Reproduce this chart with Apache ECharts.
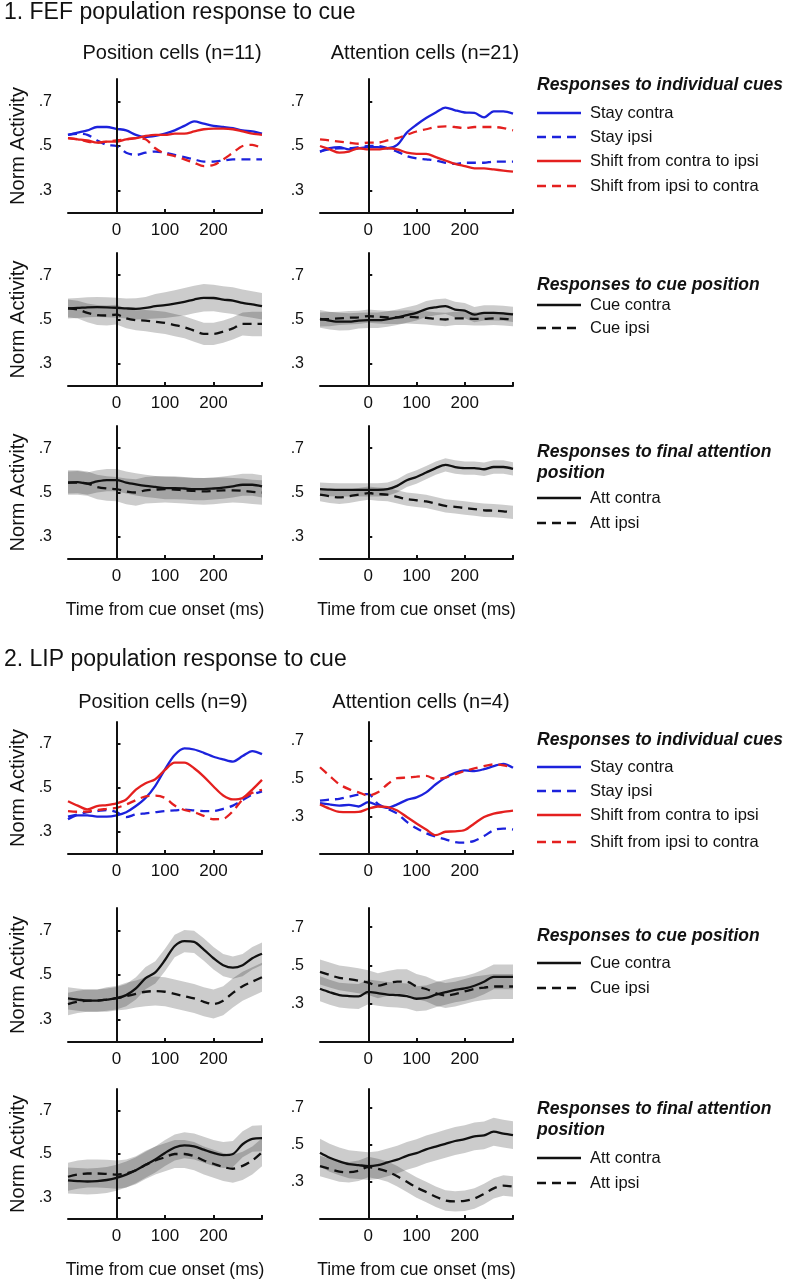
<!DOCTYPE html>
<html>
<head>
<meta charset="utf-8">
<script src="https://cdn.jsdelivr.net/npm/echarts@6/dist/echarts.min.js"></script>
<style>
  html, body { margin: 0; padding: 0; background: #fff; }
  #main { width: 786px; height: 1280px; }
</style>
</head>
<body>
<div id="main"></div>
<script>
// time bins (ms from cue onset)
var T = [-100,-80,-60,-40,-20,0,20,40,60,80,100,120,140,160,180,200,220,240,260,280,300];

// 1. FEF - position cells, individual cues
var fefPosStayContra = [0.55,0.56,0.57,0.585,0.585,0.577,0.57,0.55,0.54,0.545,0.555,0.57,0.59,0.61,0.60,0.59,0.585,0.58,0.57,0.565,0.555];
var fefPosStayIpsi   = [0.55,0.555,0.55,0.525,0.505,0.50,0.47,0.46,0.47,0.475,0.47,0.46,0.45,0.44,0.43,0.43,0.435,0.44,0.44,0.44,0.44];
var fefPosShiftCI    = [0.535,0.53,0.525,0.515,0.52,0.52,0.53,0.535,0.545,0.55,0.55,0.555,0.555,0.565,0.575,0.578,0.578,0.575,0.565,0.555,0.55];
var fefPosShiftIC    = [0.535,0.53,0.52,0.515,0.52,0.525,0.53,0.535,0.53,0.49,0.465,0.455,0.44,0.425,0.41,0.415,0.44,0.47,0.50,0.505,0.49];
// FEF - attention cells, individual cues
var fefAttStayContra = [0.475,0.49,0.495,0.485,0.49,0.495,0.495,0.49,0.505,0.56,0.595,0.625,0.65,0.672,0.66,0.65,0.648,0.628,0.655,0.655,0.645];
var fefAttStayIpsi   = [0.475,0.485,0.49,0.49,0.495,0.50,0.50,0.49,0.475,0.455,0.445,0.44,0.435,0.425,0.42,0.425,0.425,0.425,0.43,0.43,0.43];
var fefAttShiftCI    = [0.50,0.485,0.47,0.475,0.49,0.485,0.485,0.49,0.485,0.47,0.465,0.465,0.45,0.435,0.42,0.41,0.40,0.40,0.395,0.39,0.385];
var fefAttShiftIC    = [0.53,0.525,0.52,0.515,0.51,0.515,0.515,0.525,0.535,0.55,0.565,0.575,0.585,0.588,0.585,0.58,0.585,0.585,0.585,0.58,0.57];
// FEF - cue position (mean, sem)
var fefPosCueContra    = [0.55,0.552,0.555,0.556,0.555,0.553,0.55,0.548,0.552,0.56,0.565,0.572,0.58,0.59,0.598,0.597,0.59,0.585,0.575,0.568,0.56];
var fefPosCueContraSem = [0.045,0.045,0.045,0.045,0.045,0.045,0.045,0.048,0.05,0.055,0.058,0.06,0.062,0.062,0.062,0.06,0.06,0.06,0.06,0.06,0.06];
var fefPosCueIpsi      = [0.55,0.545,0.53,0.52,0.518,0.522,0.505,0.497,0.495,0.49,0.485,0.475,0.465,0.45,0.435,0.435,0.445,0.46,0.48,0.48,0.48];
var fefPosCueIpsiSem   = [0.04,0.04,0.042,0.045,0.045,0.045,0.045,0.045,0.048,0.05,0.05,0.05,0.05,0.05,0.05,0.05,0.05,0.05,0.052,0.055,0.055];
var fefAttCueContra    = [0.503,0.495,0.49,0.49,0.495,0.497,0.497,0.502,0.51,0.52,0.53,0.547,0.555,0.56,0.545,0.54,0.522,0.53,0.53,0.528,0.523];
var fefAttCueContraSem = [0.04,0.04,0.04,0.038,0.036,0.035,0.035,0.035,0.035,0.035,0.035,0.036,0.036,0.035,0.035,0.034,0.034,0.034,0.034,0.034,0.034];
var fefAttCueIpsi      = [0.5,0.502,0.505,0.508,0.51,0.515,0.512,0.51,0.51,0.512,0.51,0.507,0.503,0.5,0.505,0.505,0.503,0.503,0.505,0.503,0.5];
var fefAttCueIpsiSem   = [0.032,0.032,0.03,0.03,0.03,0.03,0.03,0.03,0.03,0.03,0.03,0.03,0.03,0.03,0.03,0.03,0.03,0.03,0.03,0.03,0.03];
// FEF - final attention position (mean, sem)
var fefPosFinContra    = [0.545,0.547,0.54,0.55,0.556,0.556,0.545,0.537,0.53,0.525,0.52,0.52,0.518,0.515,0.515,0.518,0.522,0.528,0.535,0.535,0.528];
var fefPosFinContraSem = [0.05,0.05,0.05,0.05,0.05,0.05,0.05,0.05,0.05,0.05,0.05,0.05,0.05,0.05,0.05,0.05,0.05,0.05,0.05,0.05,0.05];
var fefPosFinIpsi      = [0.545,0.545,0.54,0.525,0.518,0.515,0.505,0.5,0.51,0.513,0.515,0.513,0.51,0.507,0.505,0.507,0.51,0.51,0.508,0.503,0.5];
var fefPosFinIpsiSem   = [0.055,0.055,0.055,0.055,0.055,0.055,0.058,0.06,0.06,0.06,0.06,0.06,0.06,0.06,0.06,0.06,0.058,0.055,0.055,0.055,0.055];
var fefAttFinContra    = [0.515,0.513,0.512,0.512,0.512,0.512,0.512,0.515,0.53,0.555,0.57,0.59,0.61,0.625,0.615,0.61,0.61,0.605,0.615,0.615,0.607];
var fefAttFinContraSem = [0.03,0.03,0.03,0.03,0.03,0.03,0.03,0.03,0.03,0.03,0.03,0.03,0.03,0.03,0.03,0.03,0.03,0.03,0.03,0.03,0.03];
var fefAttFinIpsi      = [0.49,0.483,0.478,0.483,0.49,0.497,0.493,0.49,0.48,0.47,0.465,0.46,0.45,0.44,0.435,0.43,0.425,0.42,0.418,0.415,0.41];
var fefAttFinIpsiSem   = [0.03,0.03,0.03,0.03,0.03,0.03,0.03,0.03,0.03,0.03,0.03,0.03,0.03,0.03,0.03,0.03,0.03,0.03,0.03,0.03,0.03];

// 2. LIP - position cells, individual cues
var lipPosStayContra = [0.358,0.376,0.376,0.37,0.37,0.376,0.39,0.418,0.455,0.51,0.585,0.65,0.68,0.675,0.66,0.642,0.63,0.62,0.645,0.668,0.654];
var lipPosStayIpsi   = [0.37,0.38,0.39,0.395,0.4,0.39,0.368,0.38,0.385,0.39,0.395,0.398,0.402,0.398,0.395,0.395,0.405,0.42,0.445,0.47,0.485];
var lipPosShiftCI    = [0.44,0.42,0.403,0.418,0.422,0.43,0.448,0.493,0.522,0.54,0.582,0.615,0.615,0.59,0.552,0.507,0.466,0.448,0.455,0.493,0.537];
var lipPosShiftIC    = [0.395,0.392,0.393,0.4,0.405,0.41,0.425,0.445,0.462,0.465,0.455,0.42,0.4,0.39,0.373,0.358,0.36,0.395,0.448,0.478,0.492];
// LIP - attention cells, individual cues
var lipAttStayContra = [0.37,0.363,0.357,0.36,0.352,0.375,0.357,0.345,0.363,0.387,0.4,0.427,0.47,0.505,0.53,0.543,0.54,0.55,0.566,0.578,0.557];
var lipAttStayIpsi   = [0.383,0.389,0.392,0.404,0.415,0.418,0.366,0.34,0.314,0.27,0.236,0.21,0.192,0.178,0.163,0.16,0.17,0.195,0.227,0.235,0.23];
var lipAttShiftCI    = [0.363,0.34,0.323,0.322,0.323,0.34,0.352,0.349,0.331,0.296,0.262,0.23,0.2,0.218,0.22,0.227,0.262,0.296,0.314,0.323,0.33];
var lipAttShiftIC    = [0.56,0.514,0.47,0.444,0.427,0.41,0.427,0.47,0.502,0.505,0.51,0.514,0.497,0.505,0.523,0.54,0.554,0.566,0.575,0.57,0.56];
// LIP - cue position
var lipPosCueContra    = [0.395,0.39,0.385,0.385,0.39,0.396,0.41,0.44,0.486,0.512,0.567,0.63,0.652,0.648,0.614,0.575,0.544,0.533,0.544,0.575,0.595];
var lipPosCueContraSem = [0.05,0.05,0.05,0.05,0.05,0.05,0.05,0.05,0.05,0.05,0.05,0.05,0.05,0.05,0.05,0.05,0.05,0.05,0.05,0.05,0.05];
var lipPosCueIpsi      = [0.37,0.38,0.385,0.385,0.39,0.396,0.405,0.415,0.425,0.428,0.425,0.415,0.405,0.395,0.38,0.37,0.385,0.42,0.45,0.47,0.49];
var lipPosCueIpsiSem   = [0.05,0.05,0.05,0.05,0.055,0.055,0.06,0.06,0.065,0.065,0.065,0.065,0.065,0.065,0.065,0.065,0.065,0.065,0.065,0.065,0.065];
var lipAttCueContra    = [0.378,0.36,0.345,0.34,0.338,0.362,0.355,0.348,0.345,0.34,0.326,0.33,0.347,0.36,0.372,0.38,0.394,0.415,0.44,0.44,0.44];
var lipAttCueContraSem = [0.065,0.065,0.065,0.065,0.065,0.065,0.065,0.065,0.065,0.065,0.065,0.065,0.065,0.065,0.065,0.065,0.065,0.065,0.065,0.065,0.065];
var lipAttCueIpsi      = [0.466,0.45,0.435,0.428,0.42,0.41,0.394,0.406,0.415,0.415,0.39,0.377,0.355,0.343,0.35,0.364,0.377,0.384,0.39,0.39,0.39];
var lipAttCueIpsiSem   = [0.065,0.065,0.065,0.065,0.065,0.065,0.065,0.065,0.065,0.065,0.065,0.065,0.065,0.065,0.065,0.065,0.065,0.065,0.065,0.065,0.065];
// LIP - final attention position
var lipPosFinContra    = [0.378,0.375,0.373,0.375,0.38,0.39,0.405,0.425,0.45,0.475,0.505,0.53,0.54,0.535,0.52,0.505,0.495,0.5,0.545,0.57,0.573];
var lipPosFinContraSem = [0.06,0.06,0.06,0.06,0.06,0.06,0.06,0.06,0.06,0.06,0.06,0.06,0.06,0.06,0.06,0.06,0.06,0.06,0.06,0.06,0.06];
var lipPosFinIpsi      = [0.395,0.405,0.41,0.41,0.408,0.405,0.41,0.425,0.45,0.47,0.485,0.5,0.5,0.49,0.47,0.455,0.44,0.432,0.445,0.47,0.508];
var lipPosFinIpsiSem   = [0.065,0.065,0.065,0.065,0.065,0.065,0.065,0.065,0.065,0.065,0.065,0.065,0.065,0.065,0.065,0.065,0.065,0.065,0.065,0.065,0.065];
var lipAttFinContra    = [0.457,0.43,0.41,0.395,0.39,0.385,0.39,0.405,0.42,0.44,0.455,0.475,0.49,0.505,0.52,0.53,0.545,0.55,0.57,0.56,0.552];
var lipAttFinContraSem = [0.075,0.075,0.075,0.075,0.075,0.075,0.075,0.075,0.075,0.075,0.075,0.075,0.075,0.075,0.075,0.075,0.075,0.075,0.075,0.075,0.075];
var lipAttFinIpsi      = [0.385,0.37,0.355,0.352,0.36,0.38,0.37,0.355,0.33,0.30,0.27,0.245,0.22,0.2,0.195,0.198,0.21,0.235,0.265,0.28,0.275];
var lipAttFinIpsiSem   = [0.055,0.055,0.055,0.055,0.055,0.055,0.055,0.055,0.055,0.055,0.055,0.055,0.055,0.055,0.055,0.055,0.055,0.055,0.055,0.055,0.055];

var xLabels = [0, 100, 200];
var xTicks = [0, 100, 200, 300];
var yLabels = [0.3, 0.5, 0.7];

var indivNames = ['Stay contra', 'Stay ipsi', 'Shift from contra to ipsi', 'Shift from ipsi to contra'];
var cueNames = ['Cue contra', 'Cue ipsi'];
var attNames = ['Att contra', 'Att ipsi'];

var FONT = '"Liberation Sans", Arial, Helvetica, sans-serif';
var BLUE = '#1c22dc';
var RED = '#e4201f';
var INK = '#111';
var DASH = [9, 6];
var LW = 2.3;

// panel layout: [left, top, width, height, yMin]
var panels = [
  [68, 79, 194, 134, 0.2], [320, 79, 193, 134, 0.2],
  [68, 253, 194, 133, 0.2], [320, 253, 193, 133, 0.2],
  [68, 426, 194, 133, 0.2], [320, 426, 193, 133, 0.2],
  [68, 722, 194, 132, 0.2], [320, 722, 193, 132, 0.1],
  [68, 908, 194, 134, 0.2], [320, 908, 193, 134, 0.1],
  [68, 1089, 194, 134, 0.2], [320, 1089, 193, 134, 0.1]
];
var bottomRows = [4, 5, 10, 11];

var grids = [], xAxes = [], yAxes = [], series = [];

panels.forEach(function(p, i){
  grids.push({ left: p[0], top: p[1], width: p[2], height: p[3] });
  var xa = {
    type: 'value', gridIndex: i, min: -100, max: 300,
    axisLine: { lineStyle: { color: INK, width: 2 } },
    axisTick: { inside: true, length: 4, customValues: xTicks, lineStyle: { color: INK, width: 2 } },
    axisLabel: { customValues: xLabels, color: INK, fontSize: 17, fontFamily: FONT, margin: 9 },
    splitLine: { show: false }
  };
  if (bottomRows.indexOf(i) >= 0) {
    xa.name = 'Time from cue onset (ms)';
    xa.nameLocation = 'middle';
    xa.nameGap = 42;
    xa.nameTextStyle = { color: INK, fontSize: 17.5, fontFamily: FONT };
  }
  xAxes.push(xa);
  var ya = {
    type: 'value', gridIndex: i, min: p[4], max: 0.8,
    axisLine: { lineStyle: { color: INK, width: 2 } },
    axisTick: { inside: true, length: 4, customValues: yLabels, lineStyle: { color: INK, width: 2 } },
    axisLabel: {
      customValues: yLabels, color: INK, fontSize: 16, fontFamily: FONT, margin: 16,
      formatter: function(v){ return v.toFixed(1).replace(/^0/, ''); }
    },
    splitLine: { show: false }
  };
  if (i % 2 === 0) {
    ya.name = 'Norm Activity';
    ya.nameLocation = 'middle';
    ya.nameGap = 40;
    ya.nameTextStyle = { color: INK, fontSize: 20, fontFamily: FONT };
  }
  yAxes.push(ya);
});

function pairs(vals){ return T.map(function(t, k){ return [t, vals[k]]; }); }

var zeroLine = {
  silent: true, symbol: 'none', label: { show: false },
  lineStyle: { color: INK, width: 2, type: 'solid' },
  data: [{ xAxis: 0 }]
};

function meanLine(g, name, vals, color, dashed){
  return {
    type: 'line', name: name, xAxisIndex: g, yAxisIndex: g,
    data: pairs(vals), symbol: 'none', smooth: 0.3, silent: true,
    lineStyle: { color: color, width: LW, type: dashed ? DASH : 'solid' },
    itemStyle: { color: color }
  };
}

// shaded mean +/- sem band, drawn as one polygon through the axes
function band(g, vals, sem){
  var lo = vals.map(function(v, k){ return v - sem[k]; });
  var hi = vals.map(function(v, k){ return v + sem[k]; });
  return {
    type: 'custom', xAxisIndex: g, yAxisIndex: g, silent: true,
    data: T.map(function(t, k){ return [t, lo[k], hi[k]]; }),
    encode: { x: 0, y: [1, 2] },
    renderItem: function(params, api){
      if (params.dataIndex !== 0) return null;
      var pts = [], k;
      for (k = 0; k < T.length; k++) pts.push(api.coord([T[k], hi[k]]));
      for (k = T.length - 1; k >= 0; k--) pts.push(api.coord([T[k], lo[k]]));
      return { type: 'polygon', shape: { points: pts }, style: { fill: 'rgba(0,0,0,0.2)' } };
    }
  };
}

function individualPanel(g, sc, si, ci, ic){
  var s1 = meanLine(g, indivNames[0], sc, BLUE, false);
  s1.markLine = zeroLine;
  series.push(s1,
    meanLine(g, indivNames[1], si, BLUE, true),
    meanLine(g, indivNames[2], ci, RED, false),
    meanLine(g, indivNames[3], ic, RED, true));
}

function pairPanel(g, names, contra, contraSem, ipsi, ipsiSem){
  var m1 = meanLine(g, names[0], contra, INK, false);
  m1.markLine = zeroLine;
  series.push(band(g, contra, contraSem), m1,
    band(g, ipsi, ipsiSem), meanLine(g, names[1], ipsi, INK, true));
}

individualPanel(0, fefPosStayContra, fefPosStayIpsi, fefPosShiftCI, fefPosShiftIC);
individualPanel(1, fefAttStayContra, fefAttStayIpsi, fefAttShiftCI, fefAttShiftIC);
pairPanel(2, cueNames, fefPosCueContra, fefPosCueContraSem, fefPosCueIpsi, fefPosCueIpsiSem);
pairPanel(3, cueNames, fefAttCueContra, fefAttCueContraSem, fefAttCueIpsi, fefAttCueIpsiSem);
pairPanel(4, attNames, fefPosFinContra, fefPosFinContraSem, fefPosFinIpsi, fefPosFinIpsiSem);
pairPanel(5, attNames, fefAttFinContra, fefAttFinContraSem, fefAttFinIpsi, fefAttFinIpsiSem);
individualPanel(6, lipPosStayContra, lipPosStayIpsi, lipPosShiftCI, lipPosShiftIC);
individualPanel(7, lipAttStayContra, lipAttStayIpsi, lipAttShiftCI, lipAttShiftIC);
pairPanel(8, cueNames, lipPosCueContra, lipPosCueContraSem, lipPosCueIpsi, lipPosCueIpsiSem);
pairPanel(9, cueNames, lipAttCueContra, lipAttCueContraSem, lipAttCueIpsi, lipAttCueIpsiSem);
pairPanel(10, attNames, lipPosFinContra, lipPosFinContraSem, lipPosFinIpsi, lipPosFinIpsiSem);
pairPanel(11, attNames, lipAttFinContra, lipAttFinContraSem, lipAttFinIpsi, lipAttFinIpsiSem);

function text(x, y, str, font, align){
  return {
    type: 'text', x: x, y: y, silent: true,
    style: { text: str, font: font, fill: INK, align: align || 'left', verticalAlign: 'middle' }
  };
}

var headFont = '23px ' + FONT;
var colFont = '20px ' + FONT;
var legTitleFont = 'italic bold 17.5px ' + FONT;
var legFont = '16.5px ' + FONT;

var graphics = [
  text(4, 13, '1. FEF population response to cue', headFont),
  text(172, 53, 'Position cells (n=11)', colFont, 'center'),
  text(425, 53, 'Attention cells (n=21)', colFont, 'center'),
  text(537, 85, 'Responses to individual cues', legTitleFont),
  text(537, 285, 'Responses to cue position', legTitleFont),
  text(537, 452, 'Responses to final attention', legTitleFont),
  text(537, 473, 'position', legTitleFont),
  text(4, 660, '2. LIP population response to cue', headFont),
  text(163, 702, 'Position cells (n=9)', colFont, 'center'),
  text(421, 702, 'Attention cells (n=4)', colFont, 'center'),
  text(537, 740, 'Responses to individual cues', legTitleFont),
  text(537, 936, 'Responses to cue position', legTitleFont),
  text(537, 1109, 'Responses to final attention', legTitleFont),
  text(537, 1130, 'position', legTitleFont)
];

// legend keys: sample line + label
function legendKeys(ys, names, colors, dashes){
  ys.forEach(function(y, k){
    graphics.push({
      type: 'line', silent: true,
      shape: { x1: 537, y1: y, x2: 581, y2: y },
      style: { stroke: colors[k], lineWidth: LW, lineDash: dashes[k] ? DASH : null }
    });
    graphics.push(text(590, y, names[k], legFont));
  });
}
legendKeys([113, 137, 161, 186], indivNames, [BLUE, BLUE, RED, RED], [false, true, false, true]);
legendKeys([305, 328], cueNames, [INK, INK], [false, true]);
legendKeys([498, 523], attNames, [INK, INK], [false, true]);
legendKeys([767, 791, 815, 842], indivNames, [BLUE, BLUE, RED, RED], [false, true, false, true]);
legendKeys([963, 988], cueNames, [INK, INK], [false, true]);
legendKeys([1158, 1183], attNames, [INK, INK], [false, true]);

var chart = echarts.init(document.getElementById('main'));
var option = {
  backgroundColor: '#fff',
  animation: false,
  grid: grids,
  xAxis: xAxes,
  yAxis: yAxes,
  graphic: graphics,
  series: series
};
chart.setOption(option);
</script>
</body>
</html>
